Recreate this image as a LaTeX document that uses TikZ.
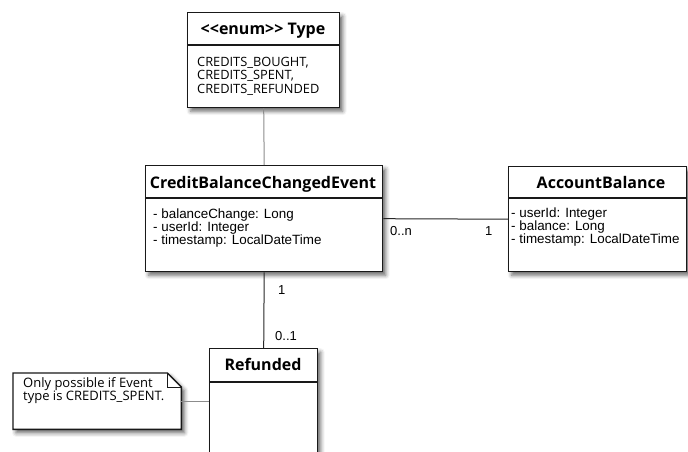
\documentclass[tikz,border=0pt]{standalone}
\usepackage{fontspec}
\setmainfont{Liberation Sans}
\newfontfamily\osans{Open Sans}
\usetikzlibrary{shadows.blur}

\tikzset{
  softshadow/.style={blur shadow={shadow xshift=3pt, shadow yshift=-3.5pt, shadow blur radius=4pt, shadow opacity=60}},
  umlbox/.style={draw=black!90, line width=1.4pt, fill=white, anchor=north west,
    inner sep=0pt, softshadow},
  divider/.style={draw=black!90, line width=1.3pt},
  hdr/.style={font=\osans\bfseries\fontsize{16}{18}\selectfont, inner sep=0pt, anchor=base},
  attr/.style={font=\fontsize{13.4}{13}\selectfont, align=left, anchor=north west, inner sep=0pt},
  enumtxt/.style={font=\osans\fontsize{12.8}{13.5}\selectfont, align=left, anchor=north west, inner sep=0pt},
  notetxt/.style={font=\osans\fontsize{13}{11.5}\selectfont, align=left, anchor=north west, inner sep=0pt},
  assoc/.style={draw=black!85, line width=1pt},
  weak/.style={draw=black!45, line width=1pt},
  mult/.style={font=\fontsize{13}{13}\selectfont, inner sep=0pt, anchor=base west},
}

\begin{document}
\begin{tikzpicture}[x=1pt, y=-1pt]
\useasboundingbox (0,0) rectangle (688,452);
\clip (0,0) rectangle (688,452);

% enum Type
\node[umlbox, minimum width=152pt, minimum height=95pt] (type) at (187,12) {};
\draw[divider] ([yshift=-33pt]type.north west) -- ([yshift=-33pt]type.north east);
\node[hdr] (typeh) at (263,35) {<\kern0pt<enum>\kern0pt> Type};
\node[enumtxt] (typev) at (197,57) {CREDITS\_BOUGHT,\\CREDITS\_SPENT,\\CREDITS\_REFUNDED};

% CreditBalanceChangedEvent
\node[umlbox, minimum width=237pt, minimum height=106pt] (cbce) at (145,165) {};
\draw[divider] ([yshift=-33pt]cbce.north west) -- ([yshift=-33pt]cbce.north east);
\node[hdr] (cbceh) at (263,188) {CreditBalanceChangedEvent};
\node[attr] (cbcea) at (153,209) {- balanceChange: Long\\- userId: Integer\\- timestamp: LocalDateTime};

% AccountBalance
\node[umlbox, minimum width=178pt, minimum height=105pt] (acct) at (508,166) {};
\draw[divider] ([yshift=-32pt]acct.north west) -- ([yshift=-32pt]acct.north east);
\node[hdr] (accth) at (601,188) {AccountBalance};
\node[attr] (accta) at (511,208) {- userId: Integer\\- balance: Long\\- timestamp: LocalDateTime};

% Refunded
\node[umlbox, minimum width=108pt, minimum height=130pt] (refund) at (209,348) {};
\draw[divider] ([yshift=-34pt]refund.north west) -- ([yshift=-34pt]refund.north east);
\node[hdr] (refundh) at (263,370) {Refunded};

% note with folded corner
\node[minimum width=168pt, minimum height=56pt, anchor=north west, inner sep=0pt] (note) at (13,373) {};
\path[draw=black!90, line width=1.4pt, fill=white, softshadow]
  (note.north west) -- ([xshift=-14pt]note.north east) -- ([yshift=-14pt]note.north east)
  -- (note.south east) -- (note.south west) -- cycle;
\draw[line width=1pt, draw=black!90] ([xshift=-14pt]note.north east) |- ([yshift=-14pt]note.north east);
\node[notetxt] (notet) at (23,377) {Only possible if Event\\type is CREDITS\_SPENT.};

% connectors
\draw[weak] (type.south) -- (cbce.north);
\draw[assoc] (cbce.east) -- (acct.west);
\draw[assoc] (cbce.south) -- (refund.north);
\draw[weak] (note.east) -- (refund.west |- note.east);

% multiplicities
\node[mult] (m1) at (390,235) {0..n};
\node[mult] (m2) at (485,235) {1};
\node[mult] (m3) at (278,294) {1};
\node[mult] (m4) at (275,340) {0..1};
\end{tikzpicture}
\end{document}
